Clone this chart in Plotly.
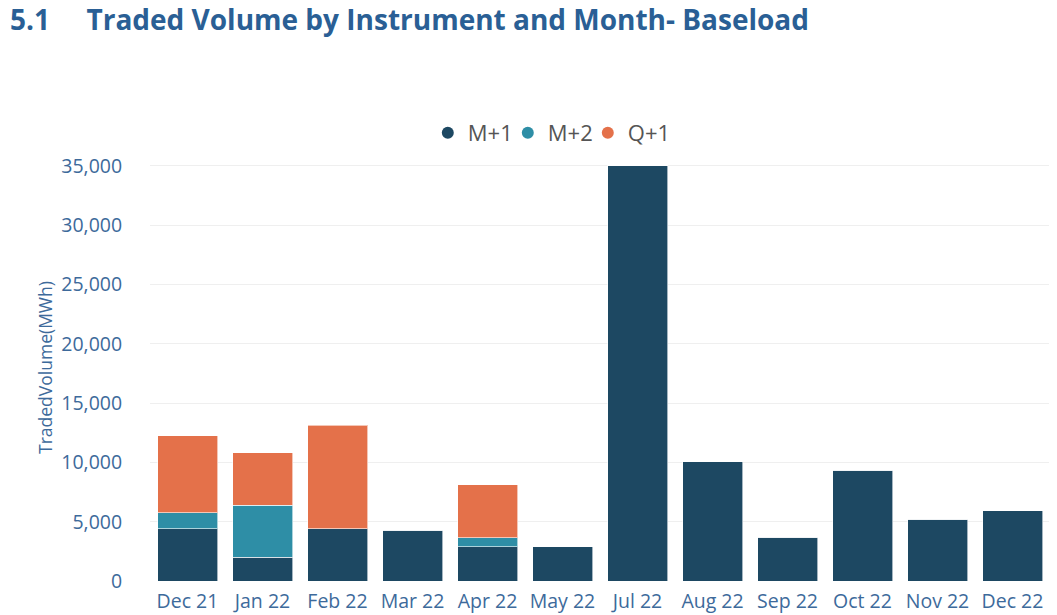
import plotly.graph_objects as go

months = ["Dec 21", "Jan 22", "Feb 22", "Mar 22", "Apr 22", "May 22",
          "Jul 22", "Aug 22", "Sep 22", "Oct 22", "Nov 22", "Dec 22"]
m1 = [4400, 2000, 4400, 4300, 2900, 2870, 35000, 10050, 3700, 9350, 5200, 5930]
m2 = [1350, 4400, 0, 0, 750, 0, 0, 0, 0, 0, 0, 0]
q1 = [6500, 4400, 8750, 0, 4450, 0, 0, 0, 0, 0, 0, 0]

series = [("M+1", m1, "#1d4862"), ("M+2", m2, "#2e8ea6"), ("Q+1", q1, "#e4714a")]

fig = go.Figure()
for name, vals, col in series:
    fig.add_trace(go.Bar(x=months, y=vals, name=name, marker_color=col,
                         marker_line=dict(color="rgba(255,255,255,0.6)", width=1),
                         showlegend=False))
for name, vals, col in series:
    fig.add_trace(go.Scatter(x=[None], y=[None], mode="markers", name=name,
                             marker=dict(symbol="circle", size=15, color=col)))

tick_font = dict(family="Open Sans, Noto Sans, sans-serif", size=19.5, color="#3d6a9b")
fig.update_layout(
    barmode="stack",
    bargap=0.2,
    width=1057, height=615,
    paper_bgcolor="white", plot_bgcolor="white",
    margin=dict(l=141.5, r=14.5, t=146, b=42, autoexpand=False),
    title=dict(text="5.1&nbsp;&nbsp;&nbsp;&nbsp;&nbsp;Traded Volume by Instrument and Month- Baseload",
               x=0.002, xanchor="left", yref="container", y=1.0, yanchor="top", pad=dict(t=2),
               font=dict(family="Open Sans, sans-serif", size=28, color="#2a5f95", weight="bold")),
    legend=dict(orientation="h", x=0.442, xanchor="center", yref="container", y=0.797, yanchor="middle",
                traceorder="normal",
                font=dict(family="Open Sans, sans-serif", size=22, color="#555555"),
                itemwidth=30, tracegroupgap=0, itemsizing="constant", entrywidth=35),
    font=tick_font,
)
fig.update_xaxes(tickfont=tick_font, showgrid=False, ticks="outside", ticklen=3,
                 tickcolor="rgba(0,0,0,0)", automargin=False)
fig.update_yaxes(range=[0, 36000], tickvals=[0, 5000, 10000, 15000, 20000, 25000, 30000, 35000],
                 tickformat=",", tickfont=tick_font, showgrid=True, gridcolor="#efefef",
                 zeroline=False, ticks="outside", ticklen=23, tickcolor="rgba(0,0,0,0)",
                 automargin=False,
                 title=dict(text="TradedVolume(MWh)", standoff=4,
                            font=dict(family="Open Sans, sans-serif", size=17.5, color="#3d6a9b")))

fig.write_html("out.html")
